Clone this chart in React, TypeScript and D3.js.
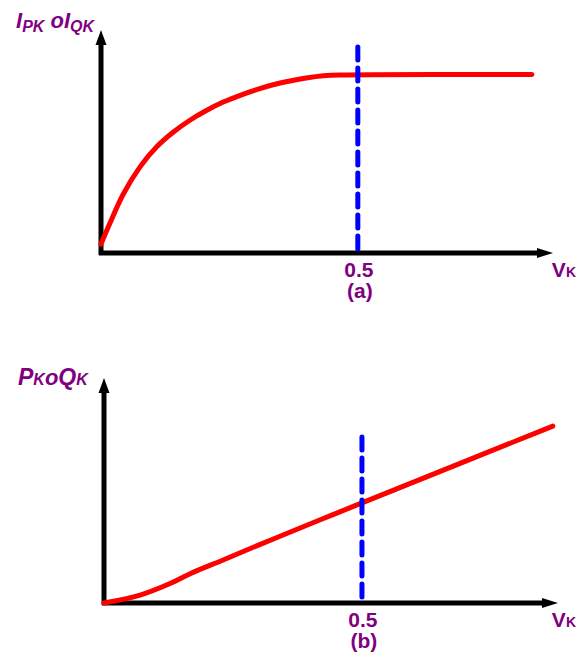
import React from 'react';
import * as d3 from 'd3';

// V_K positions (horizontal axis, per unit)
const vkTop = [0, 0.0175, 0.043, 0.076, 0.108, 0.141, 0.173, 0.206, 0.238, 0.271, 0.303, 0.335, 0.368, 0.4, 0.433, 0.465, 0.839];
// I_PK o I_QK values, saturating near 1
const iTop = [0.05, 0.168, 0.328, 0.483, 0.594, 0.678, 0.744, 0.8, 0.846, 0.884, 0.916, 0.943, 0.964, 0.981, 0.993, 0.998, 1.0];

const vkBottom = [0, 0.07, 0.128, 0.167, 0.231, 0.297, 0.36, 0.424, 0.5, 0.87];
// P_K o Q_K values, roughly linear
const pBottom = [0, 0.044, 0.108, 0.163, 0.239, 0.319, 0.393, 0.468, 0.556, 0.983];

const markV = 0.5;
const markTop = [1.155, 0.922];
const xMax = 0.88;
const yMax = 1.25;
const panelLabels = ['(a)', '(b)'];

const purple = '#800080';
const font = '"Liberation Sans", Arial, sans-serif';

type PanelProps = {
  vk: number[];
  vals: number[];
  xRange: [number, number];
  yRange: [number, number];
  dashTop: number;
  caption: string;
  ylabel: React.ReactNode;
};

function Panel({ vk, vals, xRange, yRange, dashTop, caption, ylabel }: PanelProps) {
  const x = d3.scaleLinear().domain([0, xMax]).range(xRange);
  const y = d3.scaleLinear().domain([0, yMax]).range(yRange);

  const pts: [number, number][] = vk.map((v, i) => [v, vals[i]]);
  const line = d3.line<[number, number]>()
    .x(d => x(d[0]))
    .y(d => y(d[1]))
    .curve(d3.curveCatmullRom.alpha(0.5));

  const x0 = x(0), y0 = y(0);
  const xEnd = x(xMax), yEnd = y(yMax);

  return (
    <g>
      {/* y axis */}
      <line x1={x0} x2={x0} y1={y0 + 2} y2={yEnd + 10} stroke="#000" strokeWidth={5} />
      <path d={`M${x0},${yEnd} L${x0 - 5.5},${yEnd + 15} L${x0 + 5.5},${yEnd + 15} Z`} fill="#000" />
      {/* x axis */}
      <line x1={x0 - 2} x2={xEnd - 10} y1={y0} y2={y0} stroke="#000" strokeWidth={5} />
      <path d={`M${xEnd},${y0} L${xEnd - 16},${y0 - 5} L${xEnd - 16},${y0 + 5} Z`} fill="#000" />

      <path d={line(pts) || ''} fill="none" stroke="#ff0000" strokeWidth={5} strokeLinecap="round" />

      <line x1={x(markV)} x2={x(markV)} y1={y(dashTop)} y2={y0 - 2}
        stroke="#0000ff" strokeWidth={5} strokeDasharray="13 8" strokeLinecap="round" />

      <text x={x(markV) + 1} y={y0 + 24} textAnchor="middle" fontFamily={font} fontWeight="bold"
        fontSize={21} fill={purple}>{markV}</text>
      <text x={x(markV) + 2} y={y0 + 45} textAnchor="middle" fontFamily={font} fontWeight="bold"
        fontSize={21} fill={purple}>{caption}</text>
      <text x={576} y={y0 + 23.5} textAnchor="end" fontFamily={font} fontWeight="bold" fill={purple}>
        <tspan fontSize={21}>V</tspan>
        <tspan fontSize={14}>K</tspan>
      </text>
      {ylabel}
    </g>
  );
}

export default function App() {
  return (
    <svg width={578} height={660} style={{ position: 'absolute', left: 0, top: 0, background: '#fff' }}>
      <Panel vk={vkTop} vals={iTop} xRange={[101, 553]} yRange={[253, 30]}
        dashTop={markTop[0]} caption={panelLabels[0]}
        ylabel={
          <text x={16} y={28} fontFamily={font} fontWeight="bold" fontStyle="italic" fill={purple}>
            <tspan fontSize={22}>I</tspan>
            <tspan fontSize={16} dy={4}>PK</tspan>
            <tspan fontSize={22} dy={-4}> oI</tspan>
            <tspan fontSize={16} dy={4}>QK</tspan>
          </text>
        } />
      <Panel vk={vkBottom} vals={pBottom} xRange={[104, 558]} yRange={[603, 378]}
        dashTop={markTop[1]} caption={panelLabels[1]}
        ylabel={
          <text x={18} y={385} fontFamily={font} fontWeight="bold" fontStyle="italic" fill={purple}>
            <tspan fontSize={23}>P</tspan>
            <tspan fontSize={16}>K</tspan>
            <tspan fontSize={22}>o</tspan>
            <tspan fontSize={23}>Q</tspan>
            <tspan fontSize={16}>K</tspan>
          </text>
        } />
    </svg>
  );
}
